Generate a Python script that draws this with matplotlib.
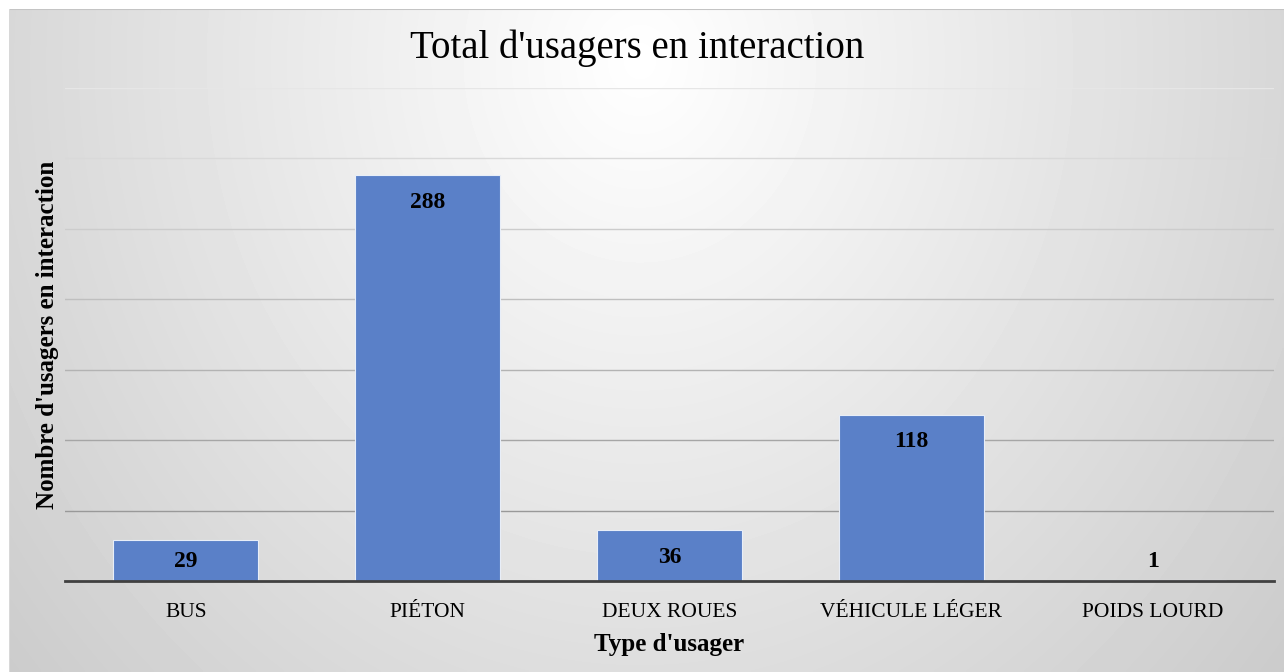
import numpy as np
import matplotlib
matplotlib.use("Agg")
import matplotlib.pyplot as plt

categories = ["BUS", "PIÉTON", "DEUX ROUES", "VÉHICULE LÉGER", "POIDS LOURD"]
values = [29, 288, 36, 118, 1]
yticks = [0, 50, 100, 150, 200, 250, 300, 350]

plt.rcParams['font.family'] = ['Liberation Serif', 'DejaVu Serif']

W, H = 1284, 672
fig = plt.figure(figsize=(W / 100, H / 100), dpi=100, facecolor='white')

# radial gradient background (chart area)
bg = fig.add_axes([9 / W, 0, (W - 9) / W, (H - 9) / H])
bg.set_axis_off()
xx, yy = np.meshgrid(np.linspace(9, W, 400), np.linspace(9, H, 220))
d = np.sqrt(((xx - 640) / 700) ** 2 + ((yy - 60) / 800) ** 2)
shade = np.clip(1 - 0.17 * d, 0, 1)
bg.imshow(shade, cmap='gray', vmin=0, vmax=1, aspect='auto',
          extent=[0, 1, 0, 1], origin='upper', interpolation='bilinear')
bg.set_xlim(0, 1)
bg.set_ylim(0, 1)
bg.plot([0, 1], [1, 1], color='#c4c4c4', lw=1.5)
bg.plot([0, 0], [0, 1], color='#d8d8d8', lw=1.5)

ax = fig.add_axes([65 / W, (H - 581) / H, 1209 / W, (581 - 88) / H])
ax.patch.set_alpha(0)

# gridlines, fading toward the top
for t in yticks[1:]:
    g = 0.55 + 0.35 * (t / 350)
    ax.axhline(t, color=(g, g, g), lw=1, zorder=0)

x = np.arange(len(categories))
ax.bar(x, values, width=0.6, color='#5a80c8', edgecolor='#e8eef8', linewidth=0.8, zorder=2)

for xi, v in zip(x, values):
    ax.text(xi, max(v - 19, 14), str(v), ha='center', va='center',
            fontsize=17, fontweight='bold', color='black', zorder=3)

ax.set_xlim(-0.5, len(categories) - 0.5)
ax.set_ylim(0, 350)
ax.set_yticks([])
ax.set_xticks(x)
ax.set_xticklabels(categories, fontsize=15.5)
ax.tick_params(axis='x', length=0, pad=16)
for s in ['top', 'right', 'left']:
    ax.spines[s].set_visible(False)
ax.spines['bottom'].set_color('#404040')
ax.spines['bottom'].set_linewidth(2)
ax.spines['bottom'].set_zorder(4)

ax.set_xlabel("Type d'usager", fontsize=18, fontweight='bold', labelpad=8)
ax.set_ylabel("Nombre d'usagers en interaction", fontsize=18, fontweight='bold', labelpad=4)

fig.text(637 / W, 1 - 48 / H, "Total d'usagers en interaction", ha='center', va='center', fontsize=28)

fig.savefig("out.png", dpi=100, facecolor=fig.get_facecolor())
